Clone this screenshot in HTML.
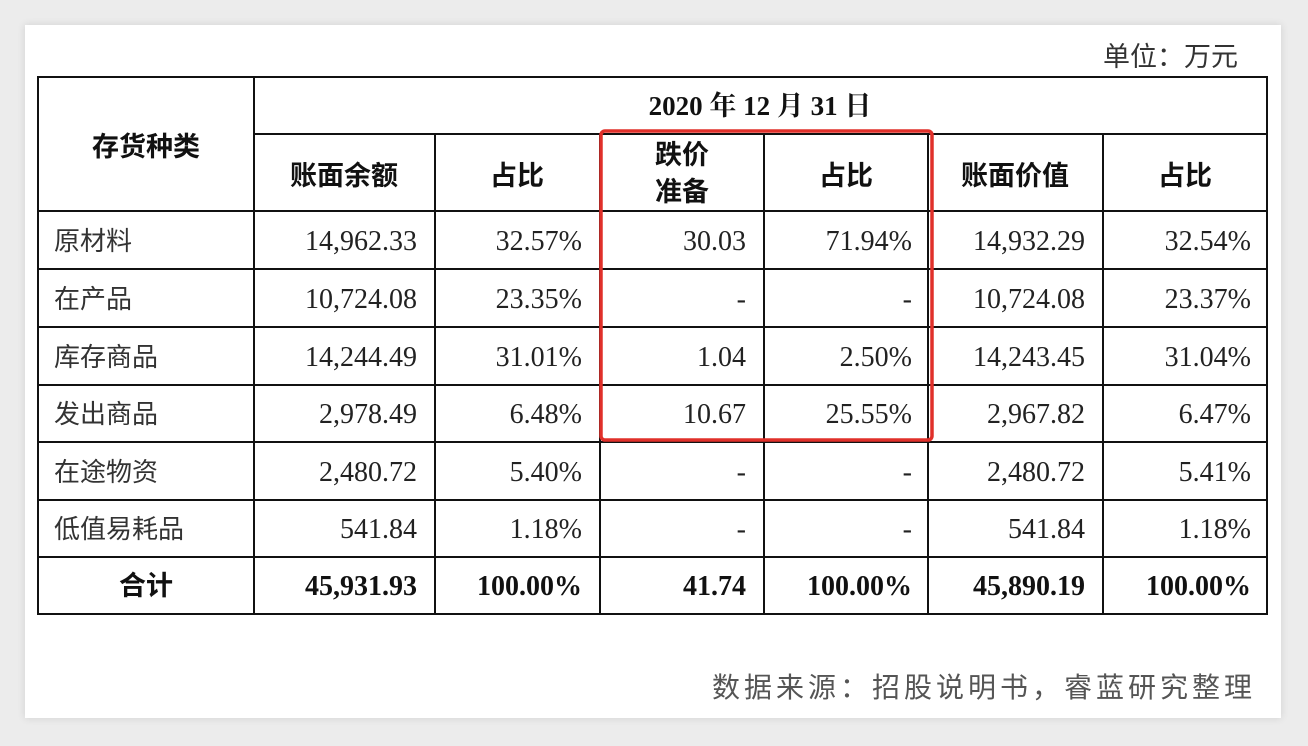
<!DOCTYPE html>
<html><head><meta charset="utf-8"><style>
html,body{margin:0;padding:0;background:#ececec;}
body{width:1308px;height:746px;position:relative;overflow:hidden;}
.card{position:absolute;left:25px;top:25px;width:1256px;height:693px;background:#fff;box-shadow:0 0 8px rgba(0,0,0,0.12);}
svg{position:absolute;left:0;top:0;}
.s{font-family:"Liberation Sans","Noto Sans CJK SC",sans-serif;}
.n{font-family:"Liberation Serif","Noto Serif CJK SC",serif;}
</style></head><body>
<div class="card"></div>
<svg width="1308" height="746" viewBox="0 0 1308 746">
<g stroke="#111" stroke-width="2" fill="none">
<rect x="38" y="77" width="1229" height="537"/>
<line x1="254" y1="134" x2="1267" y2="134"/>
<line x1="38" y1="211" x2="1267" y2="211"/>
<line x1="38" y1="269" x2="1267" y2="269"/>
<line x1="38" y1="327" x2="1267" y2="327"/>
<line x1="38" y1="385" x2="1267" y2="385"/>
<line x1="38" y1="442" x2="1267" y2="442"/>
<line x1="38" y1="500" x2="1267" y2="500"/>
<line x1="38" y1="557" x2="1267" y2="557"/>
<line x1="254" y1="77" x2="254" y2="614"/>
<line x1="435" y1="134" x2="435" y2="614"/>
<line x1="600" y1="134" x2="600" y2="614"/>
<line x1="764" y1="134" x2="764" y2="614"/>
<line x1="928" y1="134" x2="928" y2="614"/>
<line x1="1103" y1="134" x2="1103" y2="614"/>
</g>
<rect x="601" y="131" width="331" height="309" rx="4" fill="none" stroke="#e0302a" stroke-width="3.5"/>
<text x="1238" y="66" text-anchor="end" class="s" font-size="27" fill="#333">单位：万元</text>
<g class="s" font-weight="bold" font-size="27" fill="#111" text-anchor="middle">
<text x="146" y="156">存货种类</text>
<text x="344" y="185">账面余额</text>
<text x="517" y="185">占比</text>
<text x="682" y="164">跌价</text>
<text x="682" y="201">准备</text>
<text x="846" y="185">占比</text>
<text x="1015" y="185">账面价值</text>
<text x="1185" y="185">占比</text>
</g>
<text x="760" y="115" text-anchor="middle" font-size="27" font-weight="bold" fill="#111" font-family="Liberation Serif,Noto Serif CJK SC,serif">2020 年 12 月 31 日</text>
<g class="s" font-size="26" fill="#333">
<text x="54" y="250">原材料</text>
<text x="54" y="308">在产品</text>
<text x="54" y="366">库存商品</text>
<text x="54" y="423">发出商品</text>
<text x="54" y="481">在途物资</text>
<text x="54" y="538">低值易耗品</text>
</g>
<text x="146" y="595" text-anchor="middle" class="s" font-size="27" font-weight="bold" fill="#111">合计</text>
<g class="n" font-size="28" fill="#222" text-anchor="end">
<text x="417" y="250">14,962.33</text><text x="582" y="250">32.57%</text><text x="746" y="250">30.03</text><text x="912" y="250">71.94%</text><text x="1085" y="250">14,932.29</text><text x="1251" y="250">32.54%</text>
<text x="417" y="308">10,724.08</text><text x="582" y="308">23.35%</text><text x="746" y="308">-</text><text x="912" y="308">-</text><text x="1085" y="308">10,724.08</text><text x="1251" y="308">23.37%</text>
<text x="417" y="366">14,244.49</text><text x="582" y="366">31.01%</text><text x="746" y="366">1.04</text><text x="912" y="366">2.50%</text><text x="1085" y="366">14,243.45</text><text x="1251" y="366">31.04%</text>
<text x="417" y="423">2,978.49</text><text x="582" y="423">6.48%</text><text x="746" y="423">10.67</text><text x="912" y="423">25.55%</text><text x="1085" y="423">2,967.82</text><text x="1251" y="423">6.47%</text>
<text x="417" y="481">2,480.72</text><text x="582" y="481">5.40%</text><text x="746" y="481">-</text><text x="912" y="481">-</text><text x="1085" y="481">2,480.72</text><text x="1251" y="481">5.41%</text>
<text x="417" y="538">541.84</text><text x="582" y="538">1.18%</text><text x="746" y="538">-</text><text x="912" y="538">-</text><text x="1085" y="538">541.84</text><text x="1251" y="538">1.18%</text>
</g>
<g class="n" font-size="28" font-weight="bold" fill="#111" text-anchor="end">
<text x="417" y="595">45,931.93</text><text x="582" y="595">100.00%</text><text x="746" y="595">41.74</text><text x="912" y="595">100.00%</text><text x="1085" y="595">45,890.19</text><text x="1251" y="595">100.00%</text>
</g>
<text x="1256" y="697" text-anchor="end" class="s" font-size="28" fill="#555" letter-spacing="4">数据来源：招股说明书，睿蓝研究整理</text>
</svg>
</body></html>
